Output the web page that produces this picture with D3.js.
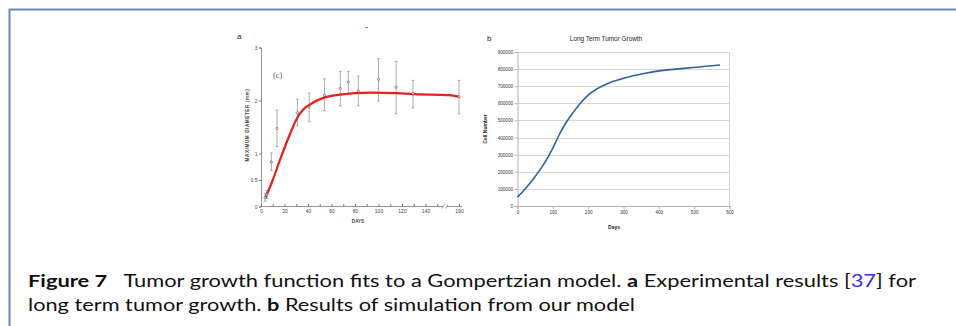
<!DOCTYPE html>
<html>
<head>
<meta charset="utf-8">
<script src="https://cdn.jsdelivr.net/npm/d3@7"></script>
<style>
  body { margin: 0; background: #fff; }
  svg { display: block; }
</style>
</head>
<body>
<div id="chart"></div>
<script>
// panel a: experimental diameters (mm) with error bars, and the red Gompertz fit
const expDays = [3.5, 5, 8.8, 13.6, 31, 41, 54, 67.5, 74.3, 82.8, 100, 115, 129.4, 190];
const expDiam = [0.17, 0.22, 0.84, 1.47, 1.77, 1.88, 2.10, 2.23, 2.35, 2.18, 2.40, 2.25, 2.13, 2.07];
const expLow  = [0.10, 0.15, 0.68, 1.13, 1.52, 1.60, 1.81, 1.90, 2.13, 1.90, 1.99, 1.75, 1.86, 1.75];
const expHigh = [0.24, 0.30, 1.01, 1.82, 2.02, 2.14, 2.41, 2.55, 2.55, 2.46, 2.79, 2.74, 2.38, 2.38];
const fitDays = [4, 10, 17, 24, 31, 36, 42, 53, 67, 93, 115, 130, 160, 190];
const fitDiam = [0.17, 0.50, 0.93, 1.33, 1.68, 1.83, 1.93, 2.05, 2.11, 2.15, 2.14, 2.12, 2.10, 2.07];
const aTickDays = [0, 10, 20, 30, 40, 50, 60, 70, 80, 90, 100, 110, 120, 130, 140, 150, 190];
const aTickDiam = [0, 0.5, 1, 2, 3];

// panel b: simulated cell number
const simDays  = [0, 27, 50, 74, 100, 117, 136, 159, 178, 199, 226, 254, 303, 358, 406, 463, 505, 573];
const simCells = [52000, 113000, 173000, 243000, 338000, 412000, 482000, 550000, 600000, 647000,
                  686000, 715000, 748000, 774000, 791000, 803000, 811000, 824000];
const bTickDays = [0, 100, 200, 300, 400, 500, 600];
const bTickCells = [0, 100000, 200000, 300000, 400000, 500000, 600000, 700000, 800000, 900000];

let width = 956, height = 326;
let svg = d3.select("#chart").append("svg")
  .attr("width", width)
  .attr("height", height);

// page frame
svg.append("path")
  .attr("d", "M9.5,326 V9.5 H956")
  .attr("fill", "none")
  .attr("stroke", "#6d88ad")
  .attr("stroke-width", 2);

// ---------- panel a ----------
let ax = d3.scaleLinear().domain([0, 160, 190]).range([261, 449, 459]);
let ay = d3.scaleLinear().domain([0, 3]).range([206.5, 47.5]);
let ga = svg.append("g").attr("font-family", "Liberation Sans, Arial, sans-serif");

ga.append("text").attr("x", 237).attr("y", 39).attr("font-size", 8).attr("fill", "#222").text("a");
ga.append("line").attr("x1", 365).attr("x2", 368).attr("y1", 27.5).attr("y2", 27.5)
  .attr("stroke", "#6aa84f").attr("stroke-width", 1);

let axisA = d3.axisBottom(ax)
  .tickValues(aTickDays)
  .tickSize(-2.5)
  .tickPadding(4)
  .tickFormat(d => (d % 20 === 0 && d <= 140) || d === 190 ? d : "");
let gax = ga.append("g")
  .attr("transform", "translate(0,206.5)")
  .call(axisA);
gax.select(".domain").remove();
gax.selectAll("line").attr("stroke", "#777");
gax.selectAll("text").attr("font-size", 5).attr("fill", "#444").attr("dy", "0.5em");

// x axis line with the // break
ga.append("path")
  .attr("d", "M" + ax(0) + ",206.5 H443 M447,206.5 H462")
  .attr("stroke", "#777").attr("fill", "none").attr("stroke-width", 0.8);
ga.append("path")
  .attr("d", "M442,208.5 L444.5,204.5 M445.5,208.5 L448,204.5")
  .attr("stroke", "#777").attr("fill", "none").attr("stroke-width", 0.7);

let axisAy = d3.axisLeft(ay)
  .tickValues(aTickDiam)
  .tickSize(2)
  .tickPadding(1.5)
  .tickFormat(d => d);
let gay = ga.append("g")
  .attr("transform", "translate(" + ax(0) + ",0)")
  .call(axisAy);
gay.select(".domain").attr("stroke", "#777").attr("stroke-width", 0.8);
gay.selectAll("line").attr("stroke", "#777");
gay.selectAll("text").attr("font-size", 5).attr("fill", "#444");

ga.append("text")
  .attr("transform", "translate(249,125) rotate(-90)")
  .attr("text-anchor", "middle")
  .attr("font-size", 4.6)
  .attr("font-weight", "bold")
  .attr("letter-spacing", 0.6)
  .attr("fill", "#444")
  .text("MAXIMUM  DIAMETER  (mm)");
ga.append("text")
  .attr("x", 358).attr("y", 223)
  .attr("text-anchor", "middle")
  .attr("font-size", 4.6)
  .attr("font-weight", "bold")
  .attr("fill", "#444")
  .text("DAYS");
ga.append("text")
  .attr("x", 273).attr("y", 78)
  .attr("font-family", "Liberation Serif, serif")
  .attr("font-size", 8.5)
  .attr("fill", "#555")
  .text("(c)");

// error bars
let bars = ga.append("g").attr("stroke", "#8a8a8a").attr("stroke-width", 0.7);
expDays.forEach(function(d, i) {
  bars.append("line")
    .attr("x1", ax(d)).attr("x2", ax(d))
    .attr("y1", ay(expLow[i])).attr("y2", ay(expHigh[i]));
  bars.append("line")
    .attr("x1", ax(d) - 1.3).attr("x2", ax(d) + 1.3)
    .attr("y1", ay(expLow[i])).attr("y2", ay(expLow[i]));
  bars.append("line")
    .attr("x1", ax(d) - 1.3).attr("x2", ax(d) + 1.3)
    .attr("y1", ay(expHigh[i])).attr("y2", ay(expHigh[i]));
});

let fitLine = d3.line()
  .x((d, i) => ax(fitDays[i]))
  .y(d => ay(d))
  .curve(d3.curveMonotoneX);
ga.append("path")
  .attr("d", fitLine(fitDiam))
  .attr("fill", "none")
  .attr("stroke", "#ee1c1c")
  .attr("stroke-width", 2.2);

ga.selectAll("circle.pt")
  .data(expDiam)
  .enter().append("circle")
  .attr("class", "pt")
  .attr("cx", (d, i) => ax(expDays[i]))
  .attr("cy", d => ay(d))
  .attr("r", 1.1)
  .attr("fill", "#fff")
  .attr("stroke", "#444")
  .attr("stroke-width", 0.6);

// ---------- panel b ----------
let bx = d3.scaleLinear().domain([0, 600]).range([517.5, 729.5]);
let by = d3.scaleLinear().domain([0, 900000]).range([206, 52]);
let gb = svg.append("g").attr("font-family", "Liberation Sans, Arial, sans-serif");

gb.append("text").attr("x", 487).attr("y", 41).attr("font-size", 8).attr("fill", "#222").text("b");
gb.append("text")
  .attr("x", 606).attr("y", 41)
  .attr("text-anchor", "middle")
  .attr("font-size", 6.4)
  .attr("fill", "#222")
  .text("Long Term Tumor Growth");

// horizontal grid
gb.append("g")
  .selectAll("line")
  .data(bTickCells.slice(1))
  .enter().append("line")
  .attr("x1", bx(0)).attr("x2", bx(600))
  .attr("y1", d => Math.round(by(d)) + 0.5).attr("y2", d => Math.round(by(d)) + 0.5)
  .attr("stroke", "#d6d6d6")
  .attr("stroke-width", 1);
gb.append("line")
  .attr("x1", bx(600)).attr("x2", bx(600))
  .attr("y1", by(900000)).attr("y2", by(0))
  .attr("stroke", "#d6d6d6");

let axisBy = d3.axisLeft(by)
  .tickValues(bTickCells)
  .tickSize(3)
  .tickPadding(1.5)
  .tickFormat(d3.format("d"));
let gby = gb.append("g")
  .attr("transform", "translate(" + bx(0) + ",0)")
  .call(axisBy);
gby.select(".domain").attr("stroke", "#b3b3b3");
gby.selectAll("line").attr("stroke", "#b3b3b3");
gby.selectAll("text").attr("font-size", 4.6).attr("fill", "#333");

let axisBx = d3.axisBottom(bx)
  .tickValues(bTickDays)
  .tickSize(3)
  .tickPadding(2)
  .tickFormat(d3.format("d"));
let gbx = gb.append("g")
  .attr("transform", "translate(0," + by(0) + ")")
  .call(axisBx);
gbx.select(".domain").attr("stroke", "#b3b3b3");
gbx.selectAll("line").attr("stroke", "#b3b3b3");
gbx.selectAll("text").attr("font-size", 4.6).attr("fill", "#333");

gb.append("text")
  .attr("transform", "translate(487,129) rotate(-90)")
  .attr("text-anchor", "middle")
  .attr("font-size", 5)
  .attr("font-weight", "bold")
  .attr("fill", "#222")
  .text("Cell Number");
gb.append("text")
  .attr("x", 614).attr("y", 229)
  .attr("text-anchor", "middle")
  .attr("font-size", 5)
  .attr("font-weight", "bold")
  .attr("fill", "#222")
  .text("Days");

let simLine = d3.line()
  .x((d, i) => bx(simDays[i]))
  .y(d => by(d))
  .curve(d3.curveMonotoneX);
gb.append("path")
  .attr("d", simLine(simCells))
  .attr("fill", "none")
  .attr("stroke", "#2f62a0")
  .attr("stroke-width", 1.6);

// ---------- caption ----------
let cap = svg.append("g")
  .attr("font-family", "Lato, 'Open Sans', sans-serif")
  .attr("font-size", 17)
  .attr("fill", "#111");
let l1 = cap.append("text").attr("x", 28).attr("y", 286.5)
  .attr("textLength", 888).attr("lengthAdjust", "spacingAndGlyphs");
l1.append("tspan").attr("font-weight", "bold").text("Figure 7");
l1.append("tspan").text("\u00a0\u00a0 Tumor growth function fits to a Gompertzian model. ");
l1.append("tspan").attr("font-weight", "bold").text("a");
l1.append("tspan").text(" Experimental results [");
l1.append("tspan").attr("fill", "#2a2aff").text("37");
l1.append("tspan").text("] for");
let l2 = cap.append("text").attr("x", 28).attr("y", 310.5)
  .attr("textLength", 607).attr("lengthAdjust", "spacingAndGlyphs");
l2.append("tspan").text("long term tumor growth. ");
l2.append("tspan").attr("font-weight", "bold").text("b");
l2.append("tspan").text(" Results of simulation from our model");
</script>
</body>
</html>
